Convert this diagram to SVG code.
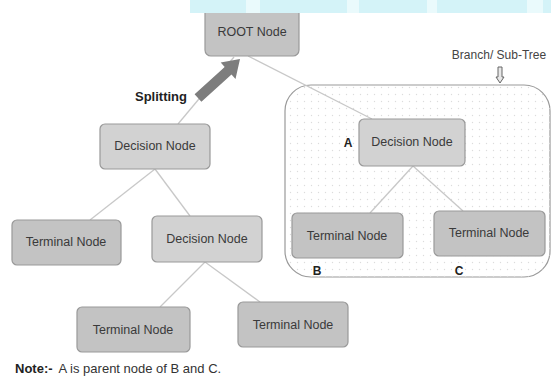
<svg xmlns="http://www.w3.org/2000/svg" width="551" height="383" viewBox="0 0 551 383">
<style>
.t{font-family:"Liberation Sans",Arial,sans-serif;font-size:12.5px;fill:#3a3a3a;text-anchor:middle}
.b{font-family:"Liberation Sans",Arial,sans-serif;font-weight:bold;fill:#222}
.dn{fill:#d2d2d2;stroke:#999;stroke-width:1.2}
.tn{fill:#c3c3c3;stroke:#999;stroke-width:1.2}
.ln{stroke:#c8c8c8;stroke-width:1.3;fill:none}
</style>
<defs>
<pattern id="dots" width="7" height="7" patternUnits="userSpaceOnUse">
<circle cx="3.5" cy="3.5" r="0.7" fill="#dcdcdc"/>
</pattern>
</defs>
<rect width="551" height="383" fill="#fff"/>
<g id="band-top">
<rect x="190" y="0" width="361" height="13" fill="#d4f3f8"/>
<rect x="246" y="0" width="14" height="13" fill="#eafafc"/>
<rect x="347" y="0" width="12" height="13" fill="#eafafc"/>
<rect x="427" y="0" width="10" height="13" fill="#eafafc"/>
<rect x="527" y="0" width="16" height="13" fill="#eafafc"/>
</g>
<g id="branch">
<rect x="285" y="85" width="265" height="192" rx="26" fill="#fff" stroke="#9a9a9a" stroke-width="1.2"/>
<rect x="285" y="85" width="265" height="192" rx="26" fill="url(#dots)"/>
<text x="499" y="59" style="font-family:'Liberation Sans',Arial,sans-serif;font-size:12px;fill:#444;text-anchor:middle">Branch/ Sub-Tree</text>
<path d="M498 67 V77 H496 L500 83 L504 77 H502 V67 Z" fill="#e8e8e8" stroke="#666" stroke-width="1"/>
</g>
<g id="connectors">
<line class="ln" x1="248" y1="56" x2="372" y2="119"/>
<line class="ln" x1="234" y1="57" x2="178" y2="124"/>
<line class="ln" x1="155" y1="169" x2="90" y2="220"/>
<line class="ln" x1="155" y1="169" x2="190" y2="216"/>
<line class="ln" x1="205" y1="262" x2="160" y2="307"/>
<line class="ln" x1="205" y1="262" x2="260" y2="302"/>
<line class="ln" x1="413" y1="166" x2="370" y2="213"/>
<line class="ln" x1="413" y1="166" x2="463" y2="211"/>
</g>
<g id="root">
<rect class="tn" x="205" y="4" width="94" height="52" rx="6"/>
<rect x="190" y="0" width="120" height="13" fill="#d4f3f8"/>
<rect x="246" y="0" width="14" height="13" fill="#eafafc"/>
<text class="t" x="252" y="36">ROOT Node</text>
</g>
<g id="splitting">
<polygon points="201.4,101.7 231.5,74.4 235.5,78.9 240,59 220.7,62.5 224.7,67 194.6,94.3" fill="#7d7d7d"/>
<text class="b" x="135" y="101" style="font-size:13px">Splitting</text>
</g>
<g id="decision1">
<rect class="dn" x="100" y="124" width="110" height="45" rx="5"/>
<text class="t" x="155" y="150">Decision Node</text>
</g>
<g id="terminal1">
<rect class="tn" x="12" y="220" width="109" height="45" rx="5"/>
<text class="t" x="66" y="246">Terminal Node</text>
</g>
<g id="decision2">
<rect class="dn" x="152" y="216" width="110" height="46" rx="5"/>
<text class="t" x="207" y="243">Decision Node</text>
</g>
<g id="terminal2">
<rect class="tn" x="77" y="307" width="113" height="45" rx="5"/>
<text class="t" x="133" y="334">Terminal Node</text>
</g>
<g id="terminal3">
<rect class="tn" x="238" y="302" width="110" height="45" rx="5"/>
<text class="t" x="293" y="329">Terminal Node</text>
</g>
<g id="decisionA">
<rect class="dn" x="359" y="119" width="106" height="47" rx="5"/>
<text class="t" x="412" y="146">Decision Node</text>
<text class="b" x="348" y="147" style="font-size:12px;text-anchor:middle">A</text>
</g>
<g id="terminalB">
<rect class="tn" x="292" y="213" width="111" height="45" rx="5"/>
<text class="t" x="347" y="240">Terminal Node</text>
<text class="b" x="317" y="275" style="font-size:12px;text-anchor:middle">B</text>
</g>
<g id="terminalC">
<rect class="tn" x="434" y="211" width="111" height="45" rx="5"/>
<text class="t" x="489" y="237">Terminal Node</text>
<text class="b" x="459" y="275" style="font-size:12px;text-anchor:middle">C</text>
</g>
<g id="note">
<text x="15" y="373" style="font-family:'Liberation Sans',Arial,sans-serif;font-size:13px;fill:#333"><tspan font-weight="bold" fill="#222">Note:-</tspan><tspan dx="6">A is parent node of B and C.</tspan></text>
</g>
</svg>
